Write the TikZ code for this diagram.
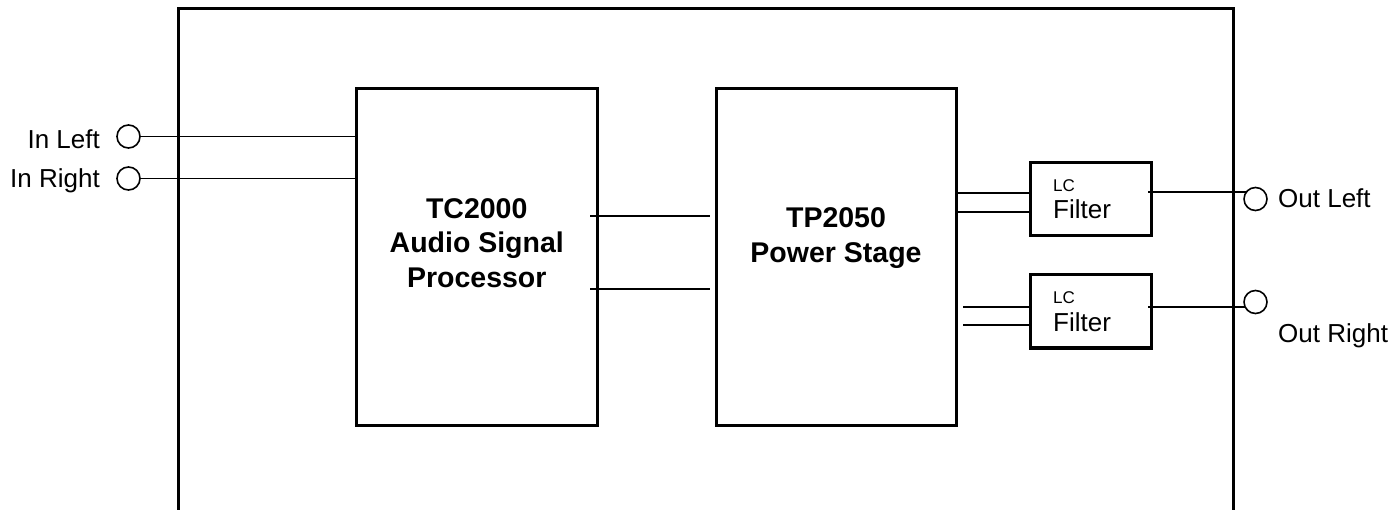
\documentclass[tikz,border=0pt]{standalone}
\usepackage{fontspec}
\setmainfont{Liberation Sans}
\begin{document}
\begin{tikzpicture}[x=1pt,y=-1pt,
  blk/.style={draw,line width=3pt,inner sep=0pt,outer sep=0pt},
  term/.style={draw,circle,line width=1.6pt,minimum size=23pt,inner sep=0pt,outer sep=0pt},
  wire/.style={line width=1.8pt},
  big/.style={font=\bfseries\fontsize{28.5}{34.5}\selectfont,align=center,inner sep=0pt},
  lbl/.style={font=\fontsize{26}{30}\selectfont,inner sep=0pt},
  small/.style={font=\fontsize{17}{20}\selectfont,inner sep=0pt}]
\useasboundingbox (0,0) rectangle (1394,510);
% outer frame (open at the bottom)
\draw[line width=3pt] (178,515) -- (178,9) -- (1233,9) -- (1233,515);
% blocks
\node[blk,minimum width=240.5pt,minimum height=336.5pt] (tc) at (476.75,256.75) {};
\node[blk,minimum width=240pt,minimum height=336.5pt] (tp) at (836,256.75) {};
\node[blk,minimum width=121pt,minimum height=73pt] (f1) at (1090.5,199.5) {};
\node[blk,minimum width=121pt,minimum height=73pt] (f2) at (1090.5,311.5) {};
% block texts
\node[big] (tct) at (476.75,243) {TC2000\\Audio Signal\\Processor};
\node[big] (tpt) at (836,238.3) {TP2050\\Power Stage};
\node[small,anchor=base west] (f1a) at (1053,192) {LC};
\node[lbl,anchor=base west] (f1b) at (1053,219) {Filter};
\node[small,anchor=base west] (f2a) at (1053,304) {LC};
\node[lbl,anchor=base west] (f2b) at (1053,331) {Filter};
% terminals
\node[term] (inl) at (128.5,136.5) {};
\node[term] (inr) at (128.5,178.5) {};
\node[term] (outl) at (1255.5,199) {};
\node[term] (outr) at (1255.5,302) {};
\node[lbl,anchor=base east] (inlt) at (100,149) {In Left};
\node[lbl,anchor=base east] (inrt) at (100,188) {In Right};
\node[lbl,anchor=base west] (outlt) at (1278,208) {Out Left};
\node[lbl,anchor=base west] (outrt) at (1278,342) {Out Right};
% wires
\draw[wire] (inl.east) -- (inl.east -| tc.west);
\draw[wire] (inr.east) -- (inr.east -| tc.west);
\draw[wire] ([xshift=-7pt]tc.east |- 0,216) -- ([xshift=-6pt]tp.west |- 0,216);
\draw[wire] ([xshift=-7pt]tc.east |- 0,289) -- ([xshift=-6pt]tp.west |- 0,289);
\draw[wire] (tp.east |- 0,193) -- (f1.west |- 0,193);
\draw[wire] (tp.east |- 0,212) -- (f1.west |- 0,212);
\draw[wire] ([xshift=7pt]tp.east |- 0,307) -- (f2.west |- 0,307);
\draw[wire] ([xshift=7pt]tp.east |- 0,325) -- (f2.west |- 0,325);
\draw[wire] ([xshift=-3pt]f1.east |- outl.144) -- (outl.144);
\draw[wire] ([xshift=-3pt]f2.east |- outr.205) -- (outr.205);
\end{tikzpicture}
\end{document}
